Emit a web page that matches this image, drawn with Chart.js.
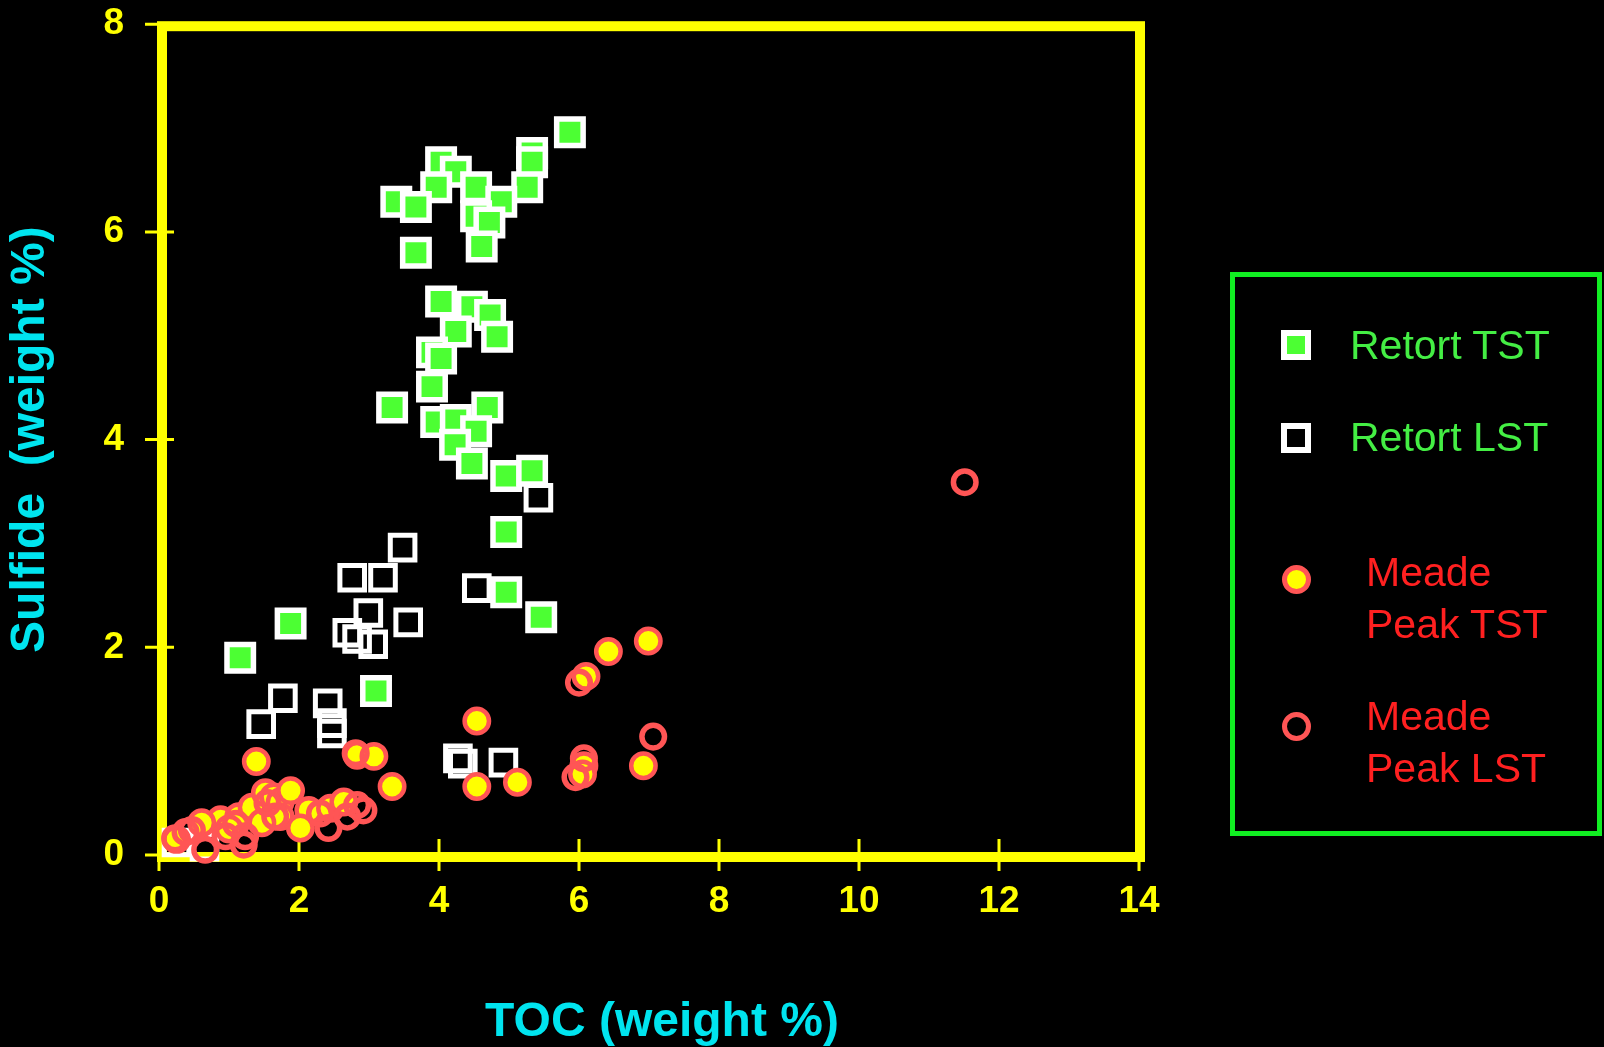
<!DOCTYPE html>
<html><head><meta charset="utf-8">
<script src="https://cdn.jsdelivr.net/npm/chart.js@4.4.1/dist/chart.umd.min.js"></script>
<style>
html,body{margin:0;padding:0;background:#000;overflow:hidden;}
#wrap{position:relative;width:1604px;height:1047px;background:#000;}
#c{position:absolute;left:0;top:0;}
#legendBox{position:absolute;left:1230px;top:272px;width:372px;height:564px;border:5px solid #11ee22;box-sizing:border-box;}
.lm{position:absolute;box-sizing:border-box;}
.lt{position:absolute;font-family:"Liberation Sans",Arial,sans-serif;font-size:41px;line-height:52px;white-space:pre;}
</style></head>
<body><div id="wrap"><canvas id="c" width="1604" height="1047"></canvas><div id="legendBox"></div></div>
<script>
// ---- data ----
const seriesNames = ['Retort TST', 'Retort LST', 'Meade Peak TST', 'Meade Peak LST'];
const xTicks = [0, 2, 4, 6, 8, 10, 12, 14];
const yTicks = [0, 2, 4, 6, 8];

const retortTstX = [5.87, 5.33, 5.33, 5.26, 4.03, 4.24, 3.96, 3.39, 3.67, 4.53, 4.89, 4.53, 4.72, 4.61, 3.67,
  4.03, 4.47, 4.73, 4.24, 4.83, 3.90, 4.03, 3.90, 3.33, 4.69, 3.96, 4.24, 4.53, 4.23, 4.47, 4.96, 5.33,
  4.96, 4.96, 5.46, 1.88, 1.16, 3.10];
const retortTstY = [6.96, 6.76, 6.67, 6.43, 6.67, 6.58, 6.43, 6.29, 6.24, 6.43, 6.29, 6.15, 6.09, 5.86, 5.80,
  5.33, 5.28, 5.20, 5.04, 4.99, 4.84, 4.78, 4.51, 4.31, 4.31, 4.17, 4.19, 4.08, 3.95, 3.77, 3.65, 3.70,
  3.11, 2.53, 2.29, 2.23, 1.90, 1.58];

const retortLstX = [5.42, 3.48, 2.76, 3.20, 4.54, 2.99, 3.56, 2.69, 2.83, 3.06, 1.77, 1.46, 2.41, 2.47, 2.47,
  4.27, 4.34, 4.92, 0.25, 0.65];
const retortLstY = [3.44, 2.96, 2.67, 2.67, 2.57, 2.33, 2.24, 2.14, 2.08, 2.03, 1.51, 1.26, 1.46, 1.27, 1.17,
  0.93, 0.88, 0.89, 0.12, 0.08];

const meadeTstX = [1.39, 4.54, 3.33, 4.54, 5.12, 2.83, 3.07, 6.10, 6.42, 6.99, 6.92, 6.07, 6.05,
  0.25, 0.88, 1.14, 1.33, 1.52, 1.64, 1.73, 1.88, 1.73, 2.14, 2.02, 2.45, 2.64, 1.47, 0.61, 1.00];
const meadeTstY = [0.90, 1.29, 0.66, 0.66, 0.70, 0.96, 0.95, 1.72, 1.96, 2.06, 0.86, 0.86, 0.78,
  0.15, 0.34, 0.37, 0.46, 0.60, 0.56, 0.51, 0.62, 0.37, 0.43, 0.26, 0.45, 0.51, 0.31, 0.31, 0.25];

const meadeLstX = [11.51, 6.00, 7.06, 6.07, 5.95, 2.81, 0.23, 0.66, 0.47, 0.95, 1.21, 1.23, 1.66, 2.42,
  2.69, 2.92, 2.83, 0.38, 1.10, 1.55, 2.30];
const meadeLstY = [3.59, 1.66, 1.14, 0.93, 0.75, 0.98, 0.16, 0.05, 0.24, 0.18, 0.10, 0.18, 0.37, 0.26,
  0.37, 0.43, 0.48, 0.22, 0.30, 0.50, 0.40];

// ---- build chart ----
const pts = (xs, ys) => xs.map((x, i) => ({x: x, y: ys[i]}));
const FONT = '"Liberation Sans", Arial, sans-serif';
Chart.defaults.font.family = FONT;

const framePlugin = {
  id: 'frame',
  afterLayout(chart) {
    const sx = chart.scales.x;
    if (sx && !sx._titlePatched) {
      const orig = sx.drawTitle;
      sx.drawTitle = function () {
        const c = this.ctx; c.save(); c.translate(13, 0); orig.call(this); c.restore();
      };
      sx._titlePatched = true;
    }
  },
  beforeDatasetsDraw(chart) {
    const {ctx, chartArea: a, scales: {x, y}} = chart;
    ctx.save();
    ctx.strokeStyle = '#ffff00';
    ctx.lineWidth = 10;
    ctx.strokeRect(a.left + 3, a.top + 2, a.right - a.left - 2, a.bottom - a.top);
    ctx.lineWidth = 3;
    ctx.beginPath();
    x.ticks.forEach(t => {
      const px = x.getPixelForValue(t.value);
      ctx.moveTo(px, a.bottom - 16); ctx.lineTo(px, a.bottom + 16);
    });
    y.ticks.forEach(t => {
      const py = y.getPixelForValue(t.value);
      ctx.moveTo(a.left - 14, py); ctx.lineTo(a.left + 15, py);
    });
    ctx.stroke();
    ctx.restore();
  }
};

const chart = new Chart(document.getElementById('c'), {
  type: 'scatter',
  data: {
    datasets: [
      {label: seriesNames[0], data: pts(retortTstX, retortTstY), pointStyle: 'rect', pointRadius: 18.7,
       backgroundColor: '#4cff33', borderColor: '#ffffff', borderWidth: 5.5, order: 3, clip: false},
      {label: seriesNames[1], data: pts(retortLstX, retortLstY), pointStyle: 'rect', pointRadius: 17.4,
       backgroundColor: 'rgba(0,0,0,0)', borderColor: '#ffffff', borderWidth: 5, order: 4, clip: false},
      {label: seriesNames[2], data: pts(meadeTstX, meadeTstY), pointStyle: 'circle', pointRadius: 12.2,
       backgroundColor: '#ffff00', borderColor: '#ff5555', borderWidth: 4.5, order: 2, clip: false},
      {label: seriesNames[3], data: pts(meadeLstX, meadeLstY), pointStyle: 'circle', pointRadius: 11.3,
       backgroundColor: 'rgba(0,0,0,0)', borderColor: '#ff5555', borderWidth: 5.5, order: 1, clip: false}
    ]
  },
  options: {
    responsive: false,
    animation: false,
    events: [],
    layout: {padding: {top: 21, right: 465, left: 0, bottom: 0}},
    plugins: {legend: {display: false}, tooltip: {enabled: false}},
    scales: {
      x: {
        type: 'linear', min: xTicks[0], max: xTicks[xTicks.length - 1],
        afterFit(s) { s.height = 192; s.paddingLeft = 0; s.paddingRight = 0; s.paddingTop = 0; s.paddingBottom = 0; },
        afterBuildTicks(s) { s.ticks = xTicks.map(v => ({value: v})); },
        grid: {display: false, drawTicks: false},
        border: {display: false},
        ticks: {color: '#ffff00', padding: 25, maxRotation: 0, font: {size: 37, weight: 'bold'}},
        title: {display: true, text: 'TOC (weight %)', color: '#00e4ef',
                font: {size: 48, weight: 'bold'}, padding: {top: 0, bottom: -5}}
      },
      y: {
        type: 'linear', min: yTicks[0], max: yTicks[yTicks.length - 1],
        afterFit(s) { s.width = 159; s.paddingTop = 0; s.paddingBottom = 0; s.paddingLeft = 0; s.paddingRight = 0; },
        afterBuildTicks(s) { s.ticks = yTicks.map(v => ({value: v})); },
        grid: {display: false, drawTicks: false},
        border: {display: false},
        ticks: {color: '#ffff00', padding: 35, font: {size: 37, weight: 'bold'}},
        title: {display: true, text: 'Sulfide  (weight %)', color: '#00e4ef',
                font: {size: 48, weight: 'bold'}, padding: {top: 2, bottom: 0}}
      }
    }
  },
  plugins: [framePlugin]
});

// ---- HTML legend built from the chart's datasets ----
const legendLayout = [
  {my: 345, tx: 1350, ty: 318.5, color: '#44ee44'},
  {my: 438, tx: 1350, ty: 411, color: '#44ee44'},
  {my: 579, tx: 1366, ty: 546, color: '#ff2020'},
  {my: 726, tx: 1366, ty: 690, color: '#ff2020'}
];
const wrap = document.getElementById('wrap');
chart.data.datasets.forEach((ds, i) => {
  const L = legendLayout[i];
  const m = document.createElement('div');
  m.className = 'lm';
  const isRect = ds.pointStyle === 'rect';
  const size = isRect ? 30 : 29;
  m.style.left = (1296 - size / 2) + 'px';
  m.style.top = (L.my - size / 2) + 'px';
  m.style.width = size + 'px';
  m.style.height = size + 'px';
  m.style.border = (isRect ? 6 : 5) + 'px solid ' + ds.borderColor;
  m.style.background = ds.backgroundColor;
  if (!isRect) m.style.borderRadius = '50%';
  wrap.appendChild(m);
  const t = document.createElement('div');
  t.className = 'lt';
  t.style.left = L.tx + 'px';
  t.style.top = L.ty + 'px';
  t.style.color = L.color;
  t.textContent = ds.label.replace('Meade ', 'Meade\n');
  wrap.appendChild(t);
});
</script>
</body></html>
